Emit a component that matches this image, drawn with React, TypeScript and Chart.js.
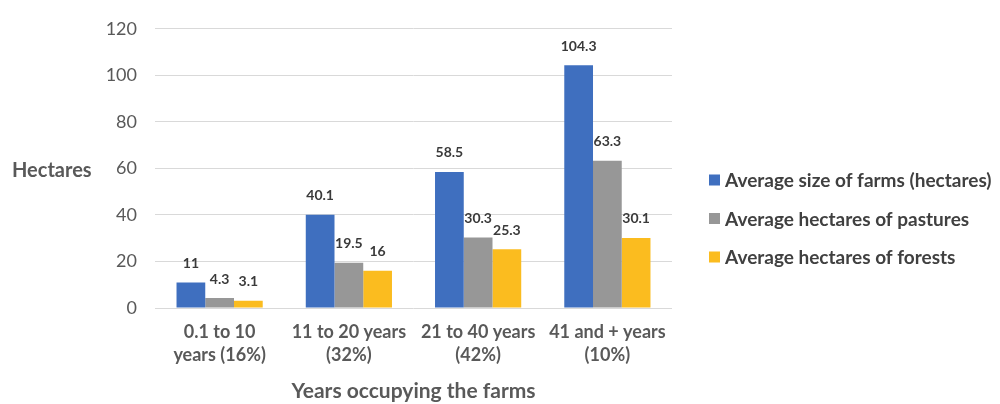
import React, { useEffect, useRef } from "react";
import { Chart, registerables } from "chart.js";

Chart.register(...registerables);

const categories: string[][] = [
  ["0.1 to 10", "years (16%)"],
  ["11 to 20 years", "(32%)"],
  ["21 to 40 years", "(42%)"],
  ["41 and + years", "(10%)"],
];
const farmSize: number[] = [11, 40.1, 58.5, 104.3];
const pastures: number[] = [4.3, 19.5, 30.3, 63.3];
const forests: number[] = [3.1, 16, 25.3, 30.1];
const seriesNames: string[] = [
  "Average size of farms (hectares)",
  "Average hectares of pastures",
  "Average hectares of forests",
];
const seriesColors: string[] = ["#3F6FBF", "#979797", "#FBBC1F"];
const yTitle = "Hectares";
const xTitle = "Years occupying the farms";

const FONT = "Lato, 'Open Sans', sans-serif";

// value labels above each bar
const valueLabels = {
  id: "valueLabels",
  afterDatasetsDraw(chart: any) {
    const ctx = chart.ctx;
    ctx.save();
    ctx.font = `bold 14px ${FONT}`;
    ctx.fillStyle = "#3A3A3A";
    ctx.textAlign = "center";
    ctx.textBaseline = "middle";
    chart.data.datasets.forEach((ds: any, i: number) => {
      const meta = chart.getDatasetMeta(i);
      meta.data.forEach((bar: any, j: number) => {
        ctx.fillText(String(ds.data[j]), bar.x, bar.y - 19);
      });
    });
    ctx.restore();
  },
};

// horizontal y-axis title and the legend column on the right
const sideText = {
  id: "sideText",
  afterDraw(chart: any) {
    const ctx = chart.ctx;
    const area = chart.chartArea;
    ctx.save();
    ctx.font = `bold 20px ${FONT}`;
    ctx.fillStyle = "#595959";
    ctx.textAlign = "left";
    ctx.textBaseline = "middle";
    ctx.fillText(yTitle, 12, (area.top + area.bottom) / 2 + 2);

    ctx.font = `bold 19px ${FONT}`;
    chart.data.datasets.forEach((ds: any, i: number) => {
      const y = 180 + i * 38.5;
      ctx.fillStyle = ds.backgroundColor;
      ctx.fillRect(709, y - 5.5, 11, 11);
      ctx.fillStyle = "#404040";
      ctx.fillText(ds.label, 725, y + 1);
    });
    ctx.restore();
  },
};

export default function App() {
  const ref = useRef<HTMLCanvasElement | null>(null);

  useEffect(() => {
    if (!ref.current) return;
    const chart = new Chart(ref.current, {
      type: "bar",
      data: {
        labels: categories,
        datasets: [farmSize, pastures, forests].map((d, i) => ({
          label: seriesNames[i],
          data: d,
          backgroundColor: seriesColors[i],
          categoryPercentage: 0.667,
          barPercentage: 1,
        })),
      },
      options: {
        animation: false,
        responsive: false,
        maintainAspectRatio: false,
        layout: { padding: { top: 28, right: 328, left: 0, bottom: 0 } },
        plugins: {
          legend: { display: false },
          tooltip: { enabled: false },
        },
        scales: {
          x: {
            grid: { display: false, drawTicks: false },
            border: { display: false },
            ticks: {
              color: "#595959",
              padding: 13,
              font: { family: FONT, size: 18, weight: "bold", lineHeight: 1.28 },
              maxRotation: 0,
              autoSkip: false,
            },
            title: {
              display: true,
              text: xTitle,
              color: "#595959",
              font: { family: FONT, size: 21, weight: "bold", lineHeight: 1.2 },
              padding: { top: 0, bottom: 0 },
            },
            afterFit: (s: any) => {
              s.height = 96;
            },
          },
          y: {
            min: 0,
            max: 120,
            grid: { color: "#D9D9D9", lineWidth: 1, drawTicks: false },
            border: { display: false },
            ticks: {
              stepSize: 20,
              color: "#595959",
              padding: 18,
              font: { family: FONT, size: 18 },
            },
            afterFit: (s: any) => {
              s.width = 155;
            },
          },
        },
      },
      plugins: [valueLabels, sideText],
    });
    return () => chart.destroy();
  }, []);

  return (
    <div style={{ position: "absolute", left: 0, top: 0, width: 1000, height: 404, background: "#fff" }}>
      <canvas ref={ref} width={1000} height={404} />
    </div>
  );
}
